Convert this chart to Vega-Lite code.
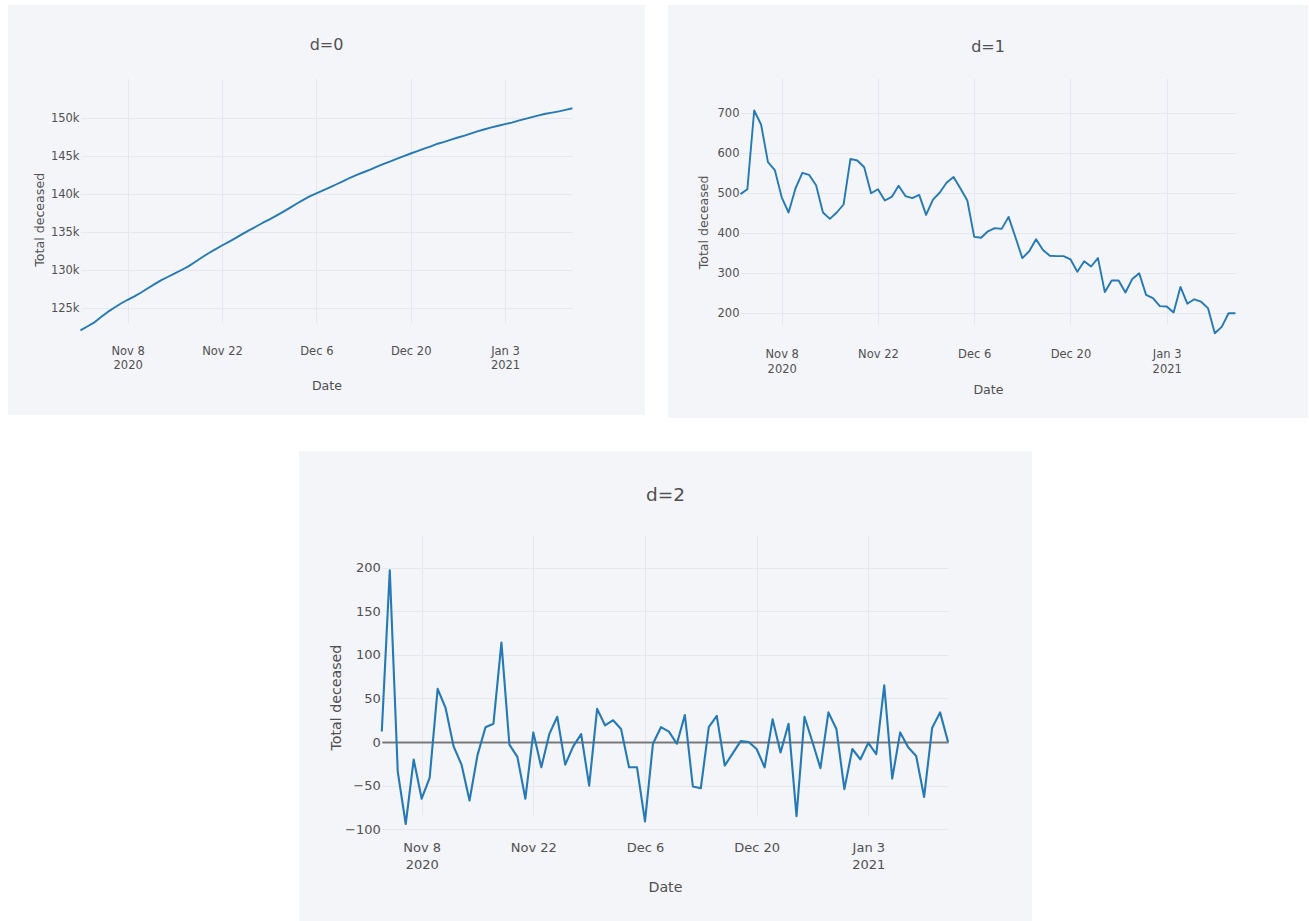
{
  "$schema": "https://vega.github.io/schema/vega-lite/v6.json",
  "background": "white",
  "padding": {"left": 8, "top": 5, "right": 0, "bottom": 0},
  "datasets": {
    "d0": [
      {"date": "2020-11-01", "deceased": 122110}, {"date": "2020-11-02", "deceased": 122608},
      {"date": "2020-11-03", "deceased": 123118}, {"date": "2020-11-04", "deceased": 123825},
      {"date": "2020-11-05", "deceased": 124497}, {"date": "2020-11-06", "deceased": 125075},
      {"date": "2020-11-07", "deceased": 125633}, {"date": "2020-11-08", "deceased": 126123},
      {"date": "2020-11-09", "deceased": 126575}, {"date": "2020-11-10", "deceased": 127087},
      {"date": "2020-11-11", "deceased": 127638}, {"date": "2020-11-12", "deceased": 128184},
      {"date": "2020-11-13", "deceased": 128704}, {"date": "2020-11-14", "deceased": 129156},
      {"date": "2020-11-15", "deceased": 129592}, {"date": "2020-11-16", "deceased": 130044},
      {"date": "2020-11-17", "deceased": 130516}, {"date": "2020-11-18", "deceased": 131102},
      {"date": "2020-11-19", "deceased": 131684}, {"date": "2020-11-20", "deceased": 132249},
      {"date": "2020-11-21", "deceased": 132749}, {"date": "2020-11-22", "deceased": 133259},
      {"date": "2020-11-23", "deceased": 133741}, {"date": "2020-11-24", "deceased": 134232},
      {"date": "2020-11-25", "deceased": 134751}, {"date": "2020-11-26", "deceased": 135244},
      {"date": "2020-11-27", "deceased": 135732}, {"date": "2020-11-28", "deceased": 136228},
      {"date": "2020-11-29", "deceased": 136674}, {"date": "2020-11-30", "deceased": 137158},
      {"date": "2020-12-01", "deceased": 137660}, {"date": "2020-12-02", "deceased": 138187},
      {"date": "2020-12-03", "deceased": 138728}, {"date": "2020-12-04", "deceased": 139240},
      {"date": "2020-12-05", "deceased": 139722}, {"date": "2020-12-06", "deceased": 140113},
      {"date": "2020-12-07", "deceased": 140502}, {"date": "2020-12-08", "deceased": 140907},
      {"date": "2020-12-09", "deceased": 141320}, {"date": "2020-12-10", "deceased": 141731},
      {"date": "2020-12-11", "deceased": 142172}, {"date": "2020-12-12", "deceased": 142562},
      {"date": "2020-12-13", "deceased": 142900}, {"date": "2020-12-14", "deceased": 143255},
      {"date": "2020-12-15", "deceased": 143640}, {"date": "2020-12-16", "deceased": 143998},
      {"date": "2020-12-17", "deceased": 144342}, {"date": "2020-12-18", "deceased": 144685},
      {"date": "2020-12-19", "deceased": 145028}, {"date": "2020-12-20", "deceased": 145363},
      {"date": "2020-12-21", "deceased": 145667}, {"date": "2020-12-22", "deceased": 145997},
      {"date": "2020-12-23", "deceased": 146314}, {"date": "2020-12-24", "deceased": 146652},
      {"date": "2020-12-25", "deceased": 146905}, {"date": "2020-12-26", "deceased": 147187},
      {"date": "2020-12-27", "deceased": 147469}, {"date": "2020-12-28", "deceased": 147721},
      {"date": "2020-12-29", "deceased": 148007}, {"date": "2020-12-30", "deceased": 148307},
      {"date": "2020-12-31", "deceased": 148553}, {"date": "2021-01-01", "deceased": 148791},
      {"date": "2021-01-02", "deceased": 149009}, {"date": "2021-01-03", "deceased": 149226},
      {"date": "2021-01-04", "deceased": 149428}, {"date": "2021-01-05", "deceased": 149694},
      {"date": "2021-01-06", "deceased": 149918}, {"date": "2021-01-07", "deceased": 150153},
      {"date": "2021-01-08", "deceased": 150382}, {"date": "2021-01-09", "deceased": 150595},
      {"date": "2021-01-10", "deceased": 150745}, {"date": "2021-01-11", "deceased": 150911},
      {"date": "2021-01-12", "deceased": 151111}, {"date": "2021-01-13", "deceased": 151311}
    ],
    "d1": [
      {"date": "2020-11-02", "deceased": 498}, {"date": "2020-11-03", "deceased": 510},
      {"date": "2020-11-04", "deceased": 707}, {"date": "2020-11-05", "deceased": 672},
      {"date": "2020-11-06", "deceased": 578}, {"date": "2020-11-07", "deceased": 558},
      {"date": "2020-11-08", "deceased": 490}, {"date": "2020-11-09", "deceased": 452},
      {"date": "2020-11-10", "deceased": 512}, {"date": "2020-11-11", "deceased": 551},
      {"date": "2020-11-12", "deceased": 546}, {"date": "2020-11-13", "deceased": 520},
      {"date": "2020-11-14", "deceased": 452}, {"date": "2020-11-15", "deceased": 436},
      {"date": "2020-11-16", "deceased": 452}, {"date": "2020-11-17", "deceased": 472},
      {"date": "2020-11-18", "deceased": 586}, {"date": "2020-11-19", "deceased": 582},
      {"date": "2020-11-20", "deceased": 565}, {"date": "2020-11-21", "deceased": 500},
      {"date": "2020-11-22", "deceased": 510}, {"date": "2020-11-23", "deceased": 482},
      {"date": "2020-11-24", "deceased": 491}, {"date": "2020-11-25", "deceased": 519},
      {"date": "2020-11-26", "deceased": 493}, {"date": "2020-11-27", "deceased": 488},
      {"date": "2020-11-28", "deceased": 496}, {"date": "2020-11-29", "deceased": 446},
      {"date": "2020-11-30", "deceased": 484}, {"date": "2020-12-01", "deceased": 502},
      {"date": "2020-12-02", "deceased": 527}, {"date": "2020-12-03", "deceased": 541},
      {"date": "2020-12-04", "deceased": 512}, {"date": "2020-12-05", "deceased": 482},
      {"date": "2020-12-06", "deceased": 391}, {"date": "2020-12-07", "deceased": 389},
      {"date": "2020-12-08", "deceased": 405}, {"date": "2020-12-09", "deceased": 413},
      {"date": "2020-12-10", "deceased": 411}, {"date": "2020-12-11", "deceased": 441},
      {"date": "2020-12-12", "deceased": 390}, {"date": "2020-12-13", "deceased": 338},
      {"date": "2020-12-14", "deceased": 355}, {"date": "2020-12-15", "deceased": 385},
      {"date": "2020-12-16", "deceased": 358}, {"date": "2020-12-17", "deceased": 344},
      {"date": "2020-12-18", "deceased": 343}, {"date": "2020-12-19", "deceased": 343},
      {"date": "2020-12-20", "deceased": 335}, {"date": "2020-12-21", "deceased": 304},
      {"date": "2020-12-22", "deceased": 330}, {"date": "2020-12-23", "deceased": 317},
      {"date": "2020-12-24", "deceased": 338}, {"date": "2020-12-25", "deceased": 253},
      {"date": "2020-12-26", "deceased": 282}, {"date": "2020-12-27", "deceased": 282},
      {"date": "2020-12-28", "deceased": 252}, {"date": "2020-12-29", "deceased": 286},
      {"date": "2020-12-30", "deceased": 300}, {"date": "2020-12-31", "deceased": 246},
      {"date": "2021-01-01", "deceased": 238}, {"date": "2021-01-02", "deceased": 218},
      {"date": "2021-01-03", "deceased": 217}, {"date": "2021-01-04", "deceased": 202},
      {"date": "2021-01-05", "deceased": 266}, {"date": "2021-01-06", "deceased": 224},
      {"date": "2021-01-07", "deceased": 235}, {"date": "2021-01-08", "deceased": 229},
      {"date": "2021-01-09", "deceased": 213}, {"date": "2021-01-10", "deceased": 150},
      {"date": "2021-01-11", "deceased": 166}, {"date": "2021-01-12", "deceased": 200},
      {"date": "2021-01-13", "deceased": 200}
    ],
    "d2": [
      {"date": "2020-11-03", "deceased": 12}, {"date": "2020-11-04", "deceased": 197},
      {"date": "2020-11-05", "deceased": -34}, {"date": "2020-11-06", "deceased": -94},
      {"date": "2020-11-07", "deceased": -20}, {"date": "2020-11-08", "deceased": -65},
      {"date": "2020-11-09", "deceased": -41}, {"date": "2020-11-10", "deceased": 61},
      {"date": "2020-11-11", "deceased": 39}, {"date": "2020-11-12", "deceased": -5},
      {"date": "2020-11-13", "deceased": -26}, {"date": "2020-11-14", "deceased": -67},
      {"date": "2020-11-15", "deceased": -15}, {"date": "2020-11-16", "deceased": 17},
      {"date": "2020-11-17", "deceased": 21}, {"date": "2020-11-18", "deceased": 114},
      {"date": "2020-11-19", "deceased": -3}, {"date": "2020-11-20", "deceased": -17},
      {"date": "2020-11-21", "deceased": -65}, {"date": "2020-11-22", "deceased": 11},
      {"date": "2020-11-23", "deceased": -29}, {"date": "2020-11-24", "deceased": 9},
      {"date": "2020-11-25", "deceased": 29}, {"date": "2020-11-26", "deceased": -26},
      {"date": "2020-11-27", "deceased": -5}, {"date": "2020-11-28", "deceased": 9},
      {"date": "2020-11-29", "deceased": -50}, {"date": "2020-11-30", "deceased": 38},
      {"date": "2020-12-01", "deceased": 19}, {"date": "2020-12-02", "deceased": 25},
      {"date": "2020-12-03", "deceased": 15}, {"date": "2020-12-04", "deceased": -29},
      {"date": "2020-12-05", "deceased": -29}, {"date": "2020-12-06", "deceased": -91},
      {"date": "2020-12-07", "deceased": -2}, {"date": "2020-12-08", "deceased": 17},
      {"date": "2020-12-09", "deceased": 12}, {"date": "2020-12-10", "deceased": -2},
      {"date": "2020-12-11", "deceased": 31}, {"date": "2020-12-12", "deceased": -51},
      {"date": "2020-12-13", "deceased": -53}, {"date": "2020-12-14", "deceased": 17},
      {"date": "2020-12-15", "deceased": 30}, {"date": "2020-12-16", "deceased": -27},
      {"date": "2020-12-17", "deceased": -13}, {"date": "2020-12-18", "deceased": 1},
      {"date": "2020-12-19", "deceased": 0}, {"date": "2020-12-20", "deceased": -8},
      {"date": "2020-12-21", "deceased": -29}, {"date": "2020-12-22", "deceased": 26},
      {"date": "2020-12-23", "deceased": -12}, {"date": "2020-12-24", "deceased": 21},
      {"date": "2020-12-25", "deceased": -85}, {"date": "2020-12-26", "deceased": 29},
      {"date": "2020-12-27", "deceased": 0}, {"date": "2020-12-28", "deceased": -30},
      {"date": "2020-12-29", "deceased": 34}, {"date": "2020-12-30", "deceased": 15},
      {"date": "2020-12-31", "deceased": -54}, {"date": "2021-01-01", "deceased": -8},
      {"date": "2021-01-02", "deceased": -20}, {"date": "2021-01-03", "deceased": -1},
      {"date": "2021-01-04", "deceased": -14}, {"date": "2021-01-05", "deceased": 65},
      {"date": "2021-01-06", "deceased": -42}, {"date": "2021-01-07", "deceased": 11},
      {"date": "2021-01-08", "deceased": -6}, {"date": "2021-01-09", "deceased": -16},
      {"date": "2021-01-10", "deceased": -63}, {"date": "2021-01-11", "deceased": 16},
      {"date": "2021-01-12", "deceased": 34}, {"date": "2021-01-13", "deceased": 0}
    ]
  },
  "spacing": 33,
  "vconcat": [
    {
      "spacing": 23,
      "hconcat": [
        {
          "width": 637,
          "height": 410,
          "title": {"text": "d=0", "fontSize": 16, "offset": -56, "baseline": "middle"},
          "data": {"name": "d0"},
          "mark": {"type": "line", "color": "#2479b6", "strokeWidth": 1.9, "strokeJoin": "round"},
          "encoding": {
            "x": {
              "field": "date", "type": "temporal", "title": "Date",
              "scale": {"type": "utc", "nice": false, "range": [72.5, 564.4]},
              "axis": {
                "offset": -73.6, "labelFontSize": 11.5, "titleFontSize": 12.6,
                "labelPadding": 4, "labelLineHeight": 14.5, "titlePadding": 8,
                "values": [
                  {"year": 2020, "month": 11, "date": 8, "utc": true},
                  {"year": 2020, "month": 11, "date": 22, "utc": true},
                  {"year": 2020, "month": 12, "date": 6, "utc": true},
                  {"year": 2020, "month": 12, "date": 20, "utc": true},
                  {"year": 2021, "month": 1, "date": 3, "utc": true}
                ],
                "labelExpr": "[utcFormat(datum.value, '%b %-d'), indexof(['Nov 8', 'Jan 3'], utcFormat(datum.value, '%b %-d')) >= 0 ? utcFormat(datum.value, '%Y') : '']"
              }
            },
            "y": {
              "field": "deceased", "type": "quantitative", "title": "Total deceased",
              "scale": {"domain": [120650, 152770], "range": [336.4, 92.2], "nice": false, "zero": false},
              "axis": {
                "offset": -72.5, "labelFontSize": 11.5, "titleFontSize": 12.6,
                "labelPadding": 1.5, "titlePadding": 4, "format": "~s",
                "values": [125000, 130000, 135000, 140000, 145000, 150000]
              }
            }
          }
        },
        {
          "width": 640,
          "height": 413,
          "title": {"text": "d=1", "fontSize": 16, "offset": -58, "baseline": "middle"},
          "data": {"name": "d1"},
          "mark": {"type": "line", "color": "#2479b6", "strokeWidth": 1.9, "strokeJoin": "round"},
          "encoding": {
            "x": {
              "field": "date", "type": "temporal", "title": "Date",
              "scale": {"type": "utc", "nice": false, "range": [72.45, 567.45]},
              "axis": {
                "offset": -73.5, "labelFontSize": 11.5, "titleFontSize": 12.6,
                "labelPadding": 4, "labelLineHeight": 15, "titlePadding": 8,
                "values": [
                  {"year": 2020, "month": 11, "date": 8, "utc": true},
                  {"year": 2020, "month": 11, "date": 22, "utc": true},
                  {"year": 2020, "month": 12, "date": 6, "utc": true},
                  {"year": 2020, "month": 12, "date": 20, "utc": true},
                  {"year": 2021, "month": 1, "date": 3, "utc": true}
                ],
                "labelExpr": "[utcFormat(datum.value, '%b %-d'), indexof(['Nov 8', 'Jan 3'], utcFormat(datum.value, '%b %-d')) >= 0 ? utcFormat(datum.value, '%Y') : '']"
              }
            },
            "y": {
              "field": "deceased", "type": "quantitative", "title": "Total deceased",
              "scale": {"domain": [122, 735], "range": [339.5, 94.3], "nice": false, "zero": false},
              "axis": {
                "offset": -72.45, "labelFontSize": 11.5, "titleFontSize": 12.6,
                "labelPadding": 1.5, "titlePadding": 7, "format": "d",
                "values": [200, 300, 400, 500, 600, 700]
              }
            }
          }
        }
      ]
    },
    {
      "spacing": 20,
      "hconcat": [
        {
          "width": 271,
          "height": 470,
          "view": {"fill": null, "stroke": null},
          "data": {"values": []},
          "mark": "point"
        },
        {
          "width": 733,
          "height": 470,
          "title": {"text": "d=2", "fontSize": 18.5, "offset": -62, "baseline": "middle"},
          "data": {"name": "d2"},
          "mark": {"type": "line", "color": "#2479b6", "strokeWidth": 2.1, "strokeJoin": "round"},
          "encoding": {
            "x": {
              "field": "date", "type": "temporal", "title": "Date",
              "scale": {"type": "utc", "nice": false, "range": [82.8, 649.05]},
              "axis": {
                "offset": -84.3, "labelFontSize": 13, "titleFontSize": 14.2,
                "labelPadding": 5, "labelLineHeight": 17, "titlePadding": 9,
                "values": [
                  {"year": 2020, "month": 11, "date": 8, "utc": true},
                  {"year": 2020, "month": 11, "date": 22, "utc": true},
                  {"year": 2020, "month": 12, "date": 6, "utc": true},
                  {"year": 2020, "month": 12, "date": 20, "utc": true},
                  {"year": 2021, "month": 1, "date": 3, "utc": true}
                ],
                "labelExpr": "[utcFormat(datum.value, '%b %-d'), indexof(['Nov 8', 'Jan 3'], utcFormat(datum.value, '%b %-d')) >= 0 ? utcFormat(datum.value, '%Y') : '']"
              }
            },
            "y": {
              "field": "deceased", "type": "quantitative", "title": "Total deceased",
              "scale": {"domain": [-108.55, 211.55], "range": [385.7, 106.5], "nice": false, "zero": false},
              "axis": {
                "offset": -82.8, "labelFontSize": 13, "titleFontSize": 14.2,
                "labelPadding": 1.5, "titlePadding": 1, "format": "d",
                "values": [-100, -50, 0, 50, 100, 150, 200],
                "gridColor": {"condition": {"test": "datum.value === 0", "value": "#7a7a7a"}, "value": "#e6e8ed"},
                "gridWidth": {"condition": {"test": "datum.value === 0", "value": 2}, "value": 1}
              }
            }
          }
        }
      ]
    }
  ],
  "config": {
    "font": "DejaVu Sans",
    "view": {"fill": "#f4f5f9", "stroke": null},
    "axis": {
      "domain": false, "ticks": false, "grid": true,
      "gridColor": "#e6e8ed", "gridWidth": 1,
      "labelColor": "#505050", "titleColor": "#505050",
      "labelFont": "DejaVu Sans", "titleFont": "DejaVu Sans",
      "titleFontWeight": "normal"
    },
    "axisX": {"labelAlign": "center", "labelBaseline": "top"},
    "title": {"color": "#505050", "fontWeight": "normal", "font": "DejaVu Sans", "anchor": "middle"}
  }
}
